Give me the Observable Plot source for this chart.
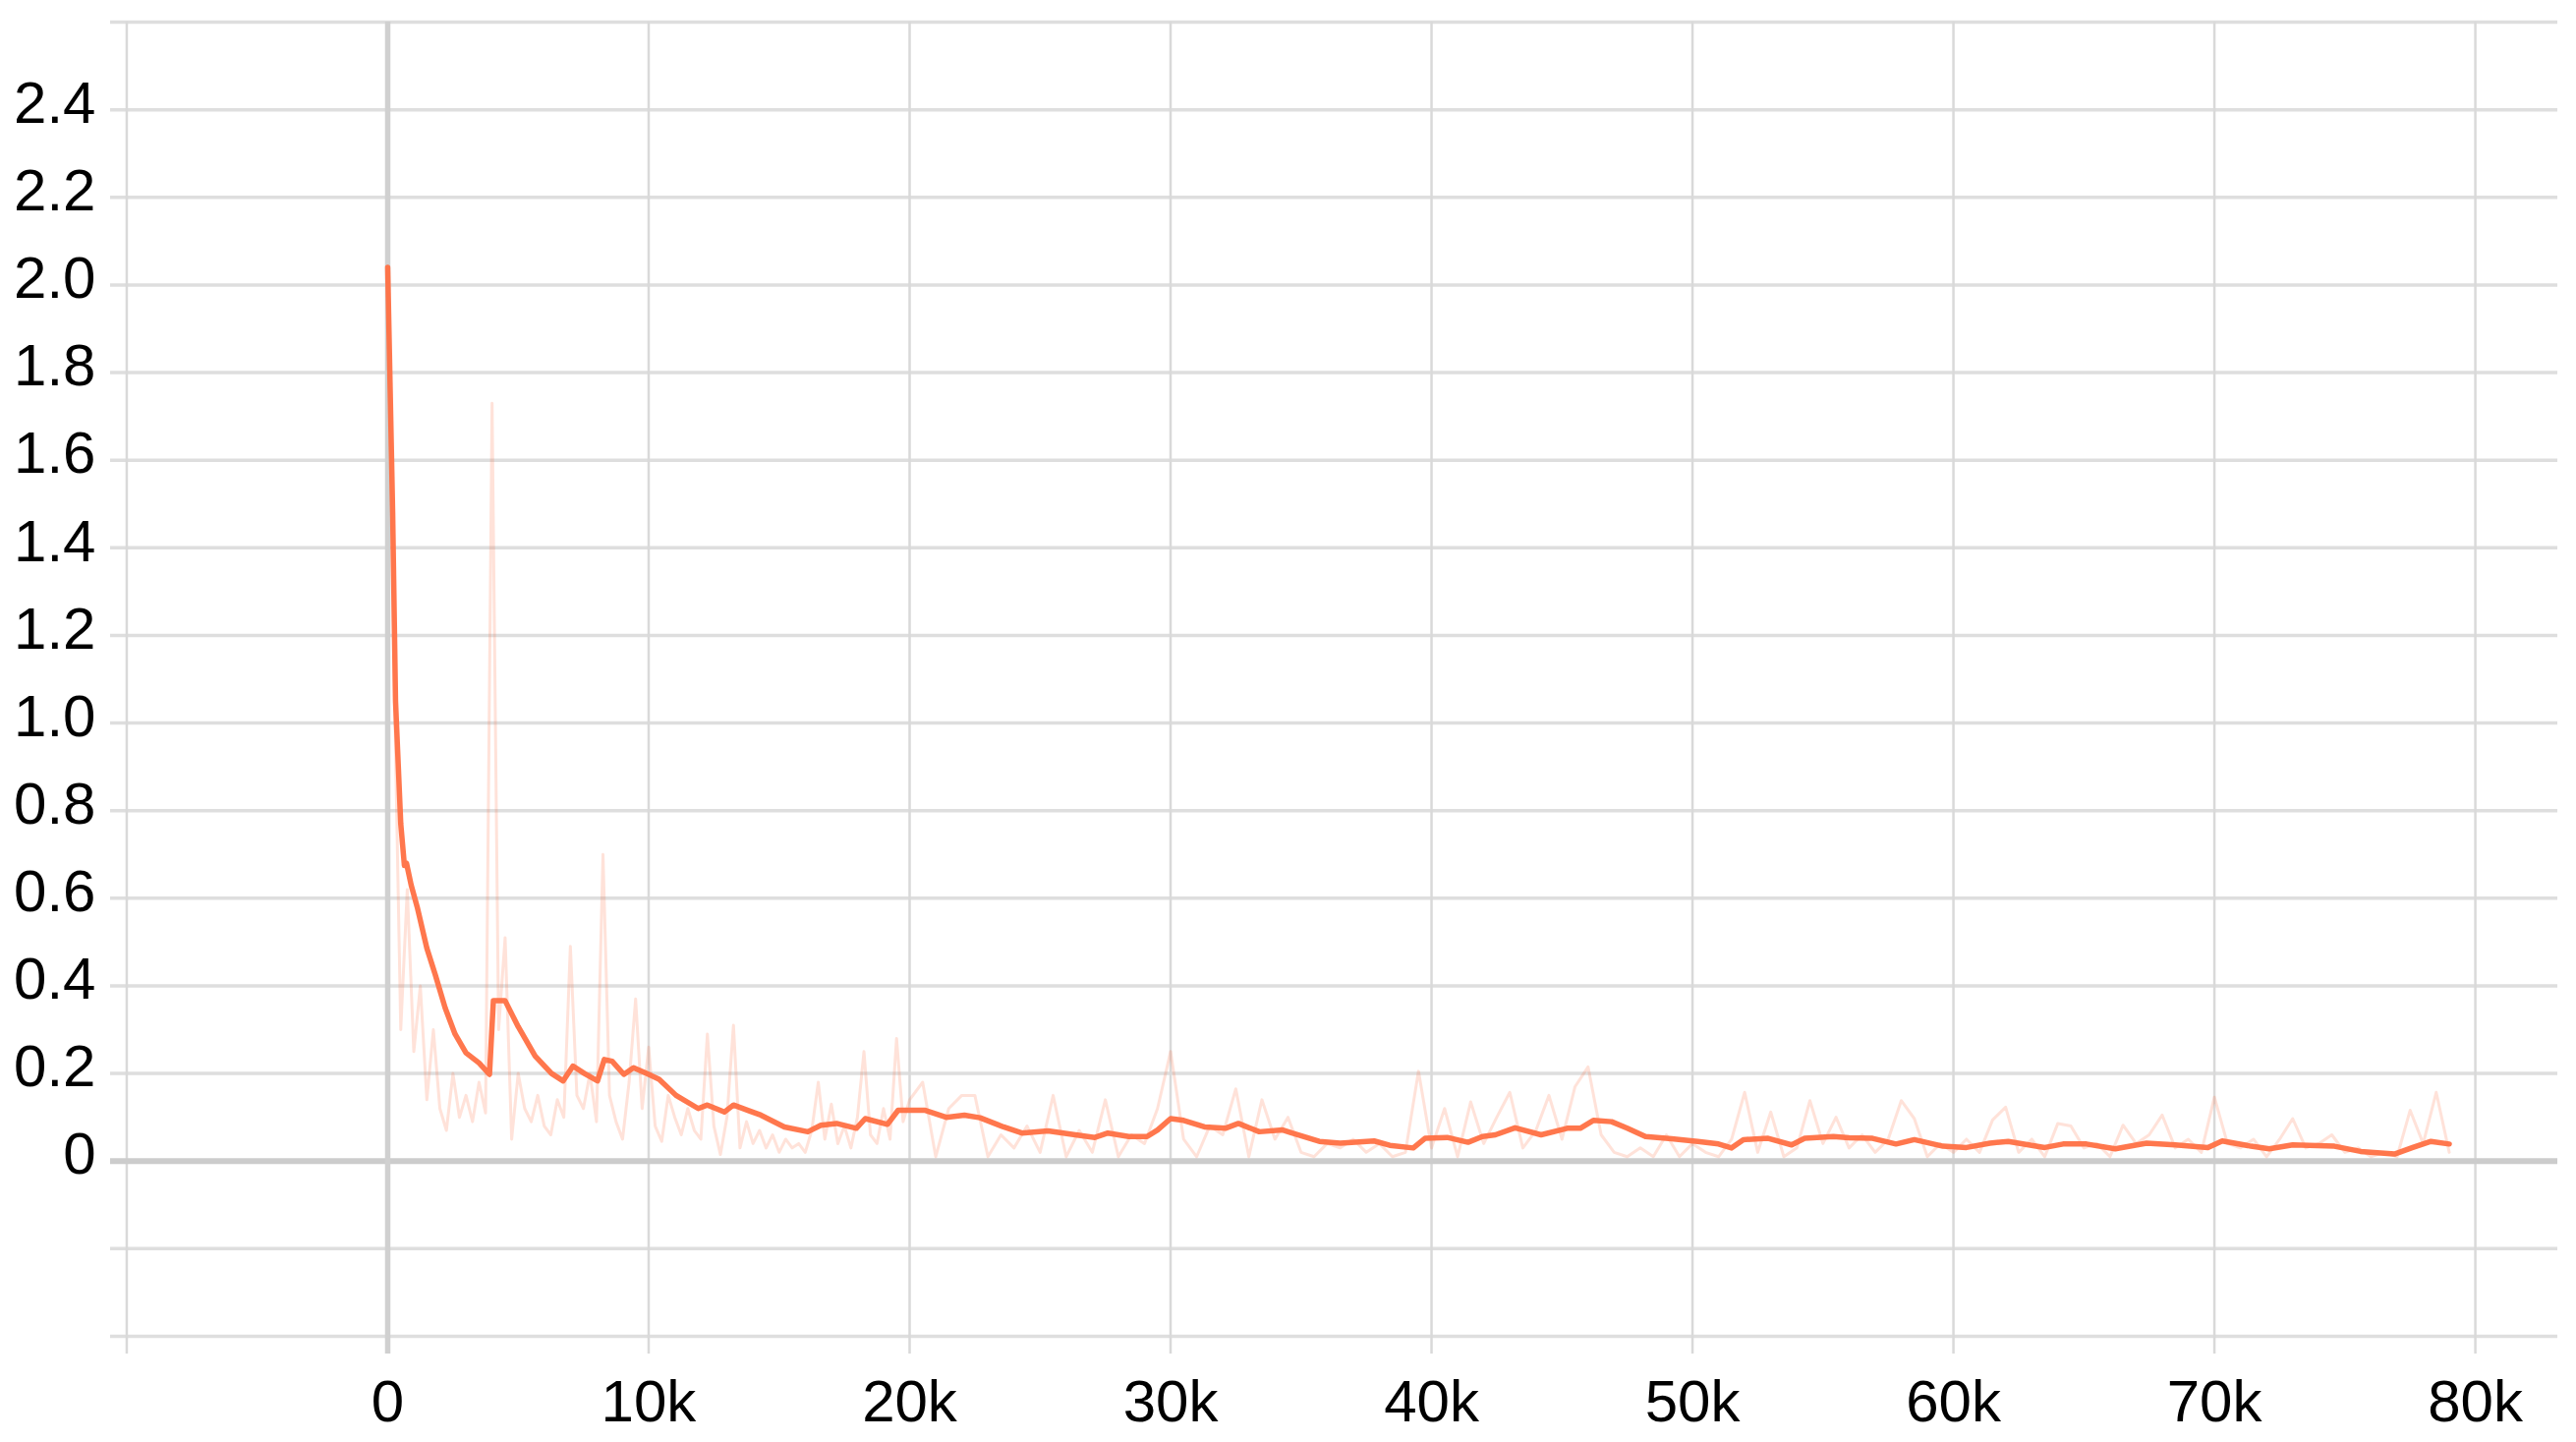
<!DOCTYPE html>
<html>
<head>
<meta charset="utf-8">
<script src="https://cdn.jsdelivr.net/npm/d3@7"></script>
<script src="https://cdn.jsdelivr.net/npm/@observablehq/plot@0.6"></script>
<style>
  html, body { margin: 0; padding: 0; background: #ffffff; }
  #chart svg { display: block; }
</style>
</head>
<body>
<div id="chart"></div>
<script>
// ---- Data ----
// Smoothed (bold) series: training step and value
const smoothStep = [0,190,300,500,640,720,900,1130,1500,1820,
  2200,2580,3000,3500,3900,4050,4500,5000,5650,6280,
  6720,7100,7540,8040,8300,8600,9050,9420,9920,10400,
  11050,11900,12250,12900,13250,14300,15200,16100,16600,17200,
  17960,18300,19150,19560,20600,21400,22100,22700,23600,24300,
  25300,26350,27100,27600,28400,29100,29500,30000,30500,31300,
  32100,32600,33400,34300,34650,35700,36500,37800,38400,39300,
  39750,40600,41400,41950,42450,43200,44200,45200,45700,46200,
  46900,47500,48200,49200,50200,51000,51500,51950,52900,53800,
  54300,55400,56000,56900,57800,58500,59600,60500,61400,62100,
  63500,64200,65100,66200,67400,68500,69750,70300,71400,72100,
  73000,74600,75600,76900,77600,78300,79000];
const smoothValue = [2.04,1.48,1.05,0.77,0.675,0.68,0.63,0.58,0.486,0.426,
  0.35,0.29,0.247,0.224,0.198,0.366,0.366,0.307,0.24,0.20,
  0.183,0.217,0.20,0.183,0.232,0.228,0.198,0.213,0.20,0.187,
  0.15,0.12,0.128,0.112,0.128,0.105,0.078,0.067,0.082,0.086,
  0.075,0.097,0.084,0.116,0.116,0.10,0.105,0.099,0.078,0.064,
  0.069,0.06,0.054,0.064,0.056,0.056,0.071,0.097,0.093,0.078,
  0.075,0.086,0.067,0.071,0.064,0.045,0.041,0.046,0.036,0.030,
  0.052,0.054,0.043,0.056,0.06,0.076,0.06,0.075,0.075,0.093,
  0.09,0.075,0.056,0.051,0.045,0.039,0.030,0.049,0.052,0.037,
  0.052,0.056,0.053,0.052,0.039,0.049,0.034,0.031,0.041,0.045,
  0.031,0.039,0.039,0.028,0.041,0.037,0.031,0.046,0.034,0.028,
  0.037,0.034,0.022,0.016,0.031,0.045,0.039];

// Raw (faint) series, logged every 250 steps from 0 to 20k
const rawEarlyStart = 0, rawEarlyEvery = 250;
const rawEarly = [2.04,1.10,0.30,0.62,0.25,
  0.40,0.14,0.30,0.12,0.07,
  0.20,0.10,0.15,0.09,0.18,
  0.11,1.73,0.30,0.51,0.05,
  0.20,0.12,0.09,0.15,0.08,
  0.06,0.14,0.10,0.49,0.15,
  0.12,0.20,0.09,0.70,0.15,
  0.09,0.05,0.18,0.37,0.12,
  0.26,0.08,0.045,0.15,0.10,
  0.06,0.12,0.07,0.05,0.29,
  0.08,0.015,0.10,0.31,0.03,
  0.09,0.04,0.07,0.03,0.06,
  0.02,0.05,0.03,0.04,0.02,
  0.07,0.18,0.05,0.13,0.04,
  0.08,0.03,0.10,0.25,0.06,
  0.04,0.12,0.05,0.28,0.09,
  0.14];
// Raw (faint) series, every 500 steps from 20.5k to 79k
const rawLateStart = 20500, rawLateEvery = 500;
const rawLate = [0.18,0.01,0.12,0.15,0.15,0.01,0.06,0.03,0.08,0.02,
  0.15,0.01,0.07,0.02,0.14,0.01,0.06,0.04,0.12,0.25,
  0.05,0.01,0.08,0.06,0.165,0.01,0.14,0.05,0.10,0.02,
  0.01,0.04,0.03,0.05,0.02,0.04,0.01,0.02,0.205,0.03,
  0.12,0.01,0.135,0.04,0.10,0.157,0.03,0.07,0.15,0.05,
  0.17,0.215,0.06,0.02,0.01,0.03,0.01,0.06,0.01,0.04,
  0.02,0.01,0.05,0.157,0.02,0.112,0.01,0.03,0.138,0.04,
  0.10,0.03,0.06,0.02,0.05,0.138,0.097,0.01,0.04,0.02,
  0.05,0.02,0.094,0.123,0.02,0.05,0.01,0.086,0.08,0.03,
  0.04,0.01,0.082,0.04,0.06,0.105,0.03,0.05,0.02,0.146,
  0.04,0.03,0.05,0.01,0.05,0.097,0.03,0.04,0.06,0.02,
  0.03,0.01,0.02,0.01,0.116,0.04,0.157,0.02];

// Axes
const xGridValues = [-10000,0,10000,20000,30000,40000,50000,60000,70000,80000];
const xTickValues = [0,10000,20000,30000,40000,50000,60000,70000,80000];
const xTickLabels = ["0","10k","20k","30k","40k","50k","60k","70k","80k"];
const yGridValues = [-0.4,-0.2,0.2,0.4,0.6,0.8,1.0,1.2,1.4,1.6,1.8,2.0,2.2,2.4,2.6];
const yTickValues = [0,0.2,0.4,0.6,0.8,1.0,1.2,1.4,1.6,1.8,2.0,2.2,2.4];
const yTickLabels = ["0","0.2","0.4","0.6","0.8","1.0","1.2","1.4","1.6","1.8","2.0","2.2","2.4"];

// ---- Build tables ----
const smooth = smoothStep.map((s, i) => ({step: s, value: smoothValue[i]}));
const raw = [
  ...rawEarly.map((v, i) => ({step: rawEarlyStart + i * rawEarlyEvery, value: v})),
  ...rawLate.map((v, i) => ({step: rawLateStart + i * rawLateEvery, value: v}))
];

const lineColor = "#ff7043";

const chart = Plot.plot({
  width: 2621,
  height: 1467,
  marginLeft: 112,
  marginRight: 19,
  marginTop: 22,
  marginBottom: 108,
  style: {fontFamily: "'Liberation Sans', Arial, Helvetica, sans-serif", background: "#ffffff", color: "#000000"},
  x: {domain: [-10620, 83160], label: null},
  y: {domain: [-0.4, 2.6], label: null},
  marks: [
    Plot.ruleY(yGridValues, {stroke: "#dedede", strokeWidth: 3.5}),
    Plot.ruleX(xGridValues.filter(d => d !== 0), {stroke: "#d9d9d9", strokeWidth: 2.5, insetBottom: -18}),
    Plot.ruleY([0], {stroke: "#cccccc", strokeWidth: 6}),
    Plot.ruleX([0], {stroke: "#d0d0d0", strokeWidth: 5.5, insetBottom: -18}),
    Plot.line(raw, {x: "step", y: "value", stroke: lineColor, strokeOpacity: 0.2, strokeWidth: 3}),
    Plot.line(smooth, {x: "step", y: "value", stroke: lineColor, strokeWidth: 5.5, strokeOpacity: 0.95, strokeLinejoin: "round"}),
    Plot.axisY({
      ticks: yTickValues,
      tickFormat: d => yTickLabels[yTickValues.indexOf(d)],
      tickSize: 0, tickPadding: 15, fontSize: 60, dy: -6
    }),
    Plot.axisX({
      ticks: xTickValues,
      tickFormat: d => xTickLabels[xTickValues.indexOf(d)],
      tickSize: 0, tickPadding: 44, fontSize: 60
    })
  ]
});
document.getElementById("chart").appendChild(chart);
</script>
</body>
</html>
